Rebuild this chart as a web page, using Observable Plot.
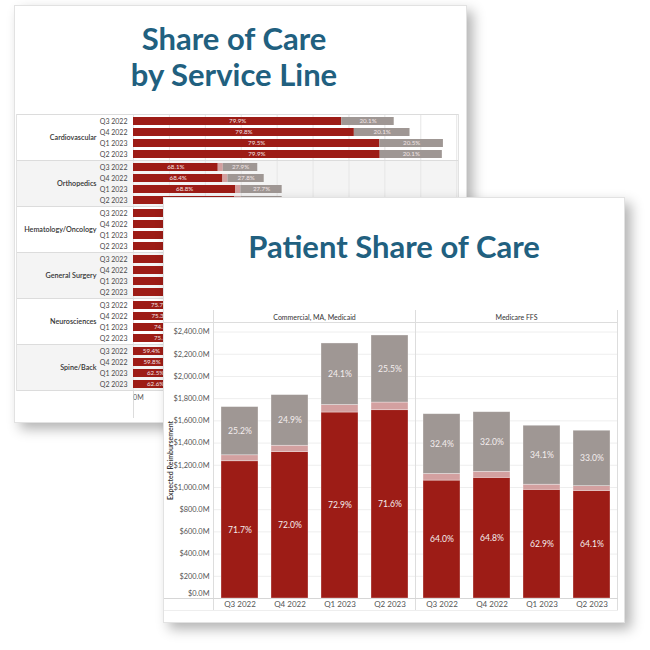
<!DOCTYPE html>
<html><head><meta charset="utf-8">
<script src="https://cdn.jsdelivr.net/npm/d3@7"></script>
<script src="https://cdn.jsdelivr.net/npm/@observablehq/plot@0.6"></script>
<style>
html,body{margin:0;padding:0;background:#fff;width:650px;height:650px;overflow:hidden;font-family:Lato,"Open Sans",sans-serif;}
.card{position:absolute;background:#fff;border:1px solid #e2e2e2;box-shadow:6px 6px 12px rgba(0,0,0,0.30);}
.title{position:absolute;text-align:center;font-family:Lato,sans-serif;font-weight:bold;font-size:31px;line-height:36px;color:#21607f;white-space:nowrap;}
.plot{position:absolute;overflow:visible;}
</style></head><body>
<div id="back" class="card" style="left:14px;top:5px;width:451px;height:416px;z-index:1">
  <div class="title" style="left:0;width:438px;top:14px">Share of Care<br>by Service Line</div>
  <div id="backPlot" class="plot" style="left:0;top:106px"></div>
</div>
<div id="front" class="card" style="left:163px;top:197px;width:460px;height:424px;z-index:2">
  <div class="title" style="left:0;width:460px;top:30px">Patient Share of Care</div>
  <div id="frontPlot" class="plot" style="left:0;top:102px"></div>
</div>
<script>
// ---------- shared ----------
const quarters = ["Q3 2022", "Q4 2022", "Q1 2023", "Q2 2023"];
const segments = ["Retained", "Shared", "Other"];
const segColors = ["#9d1c16", "#d3a0a0", "#9f9794"];

// ---------- back chart: share of care by service line ($M) ----------
const serviceLines = ["Cardiovascular", "Orthopedics", "Hematology/Oncology", "General Surgery", "Neurosciences", "Spine/Back"];
const backRetained = [
  [580, 615, 686, 687],
  [236, 249, 285, 282],
  [268, 276, 290, 296],
  [250, 258, 262, 270],
  [145, 148, 162, 162],
  [100, 103, 123, 123]
];
const backShared = [
  [0, 0, 0, 0],
  [14, 14, 14, 18],
  [12, 12, 12, 12],
  [10, 10, 11, 11],
  [6, 6, 7, 7],
  [6, 6, 7, 7]
];
const backOther = [
  [146, 155, 177, 173],
  [96, 101, 115, 114],
  [70, 72, 76, 78],
  [66, 68, 70, 72],
  [40, 42, 48, 46],
  [62, 62, 66, 66]
];
// labels that can be read in the picture ("" where the label is hidden)
const backRetainedPct = [
  ["79.9%", "79.8%", "79.5%", "79.9%"],
  ["68.1%", "68.4%", "68.8%", ""],
  ["", "", "", ""],
  ["", "", "", ""],
  ["75.7%", "75.3%", "74.5%", "75.3%"],
  ["59.4%", "59.8%", "62.5%", "62.6%"]
];
const backOtherPct = [
  ["20.1%", "20.1%", "20.5%", "20.1%"],
  ["27.9%", "27.8%", "27.7%", ""],
  ["", "", "", ""],
  ["", "", "", ""],
  ["", "", "", ""],
  ["", "", "", ""]
];
const backTicks = [0, 100, 200, 300, 400, 500, 600, 700, 800, 900];
const backTickLabels = [0]; // the only axis label not covered by the front card

// ---------- front chart: patient share of care ($M) ----------
const payers = ["Commercial, MA, Medicaid", "Medicare FFS"];
const frontRetained = [[1236, 1319, 1675, 1696], [1062, 1087, 979, 969]];
const frontShared   = [[54, 57, 68, 69], [60, 54, 46, 43]];
const frontOther    = [[434, 456, 554, 604], [538, 537, 531, 499]];
const frontRetainedPct = [["71.7%", "72.0%", "72.9%", "71.6%"], ["64.0%", "64.8%", "62.9%", "64.1%"]];
const frontOtherPct    = [["25.2%", "24.9%", "24.1%", "25.5%"], ["32.4%", "32.0%", "34.1%", "33.0%"]];
const frontTicks = [0, 200, 400, 600, 800, 1000, 1200, 1400, 1600, 1800, 2000, 2200, 2400];
const frontYLabel = "Expected Reimbursement";

const fmtM = d => "$" + d3.format(",.1f")(d) + "M";
const FONT = "Lato, 'Open Sans', sans-serif";

// ---------- build back ----------
const backRows = [];
serviceLines.forEach((s, i) => quarters.forEach((q, j) => {
  backRows.push({line: s, quarter: q, seg: segments[0], value: backRetained[i][j], label: backRetainedPct[i][j]});
  backRows.push({line: s, quarter: q, seg: segments[1], value: backShared[i][j], label: ""});
  backRows.push({line: s, quarter: q, seg: segments[2], value: backOther[i][j], label: backOtherPct[i][j]});
}));

const backSvg = Plot.plot({
  width: 444, height: 306,
  marginLeft: 118, marginRight: 1, marginTop: 2, marginBottom: 28,
  style: {fontFamily: FONT, background: "transparent", overflow: "visible"},
  fy: {domain: serviceLines, padding: 0, axis: null, label: null},
  y: {domain: quarters, paddingInner: 0.29, paddingOuter: 0.145, label: null},
  x: {domain: [0, 905], label: null},
  color: {domain: segments, range: segColors},
  marks: [
    Plot.rect(serviceLines, {fy: d => d, fill: (d, i) => (i % 2 ? "#f4f4f4" : "#ffffff"), insetLeft: -117}),
    Plot.gridX({ticks: backTicks, stroke: "#e6e6e6", strokeOpacity: 1}),
    Plot.frame({anchor: "top", stroke: "#dcdcdc", insetLeft: -117}),
    Plot.frame({anchor: "bottom", stroke: "#dcdcdc", insetLeft: -117}),
    Plot.frame({anchor: "right", stroke: "#e2e2e2"}),
    Plot.frame({anchor: "left", stroke: "#e2e2e2", insetLeft: -117}),
    Plot.ruleX([0], {fy: ["Spine/Back"], stroke: "#dcdcdc", insetTop: 46, insetBottom: -28}),
    Plot.barX(backRows, {fy: "line", y: "quarter", x: "value", fill: "seg"}),
    Plot.text(backRows, Plot.stackX({fy: "line", y: "quarter", x: "value", text: "label", fill: "#f3e6e6", fontSize: 6.2})),
    Plot.axisY({tickSize: 0, tickPadding: 6, fontSize: 7, fill: "#4a4a4a", label: null}),
    Plot.text(serviceLines, {fy: d => d, frameAnchor: "left", dx: -37, textAnchor: "end", text: d => d, fontSize: 7.2, fontWeight: 600, fill: "#333"}),
    Plot.axisX({anchor: "bottom", ticks: backTickLabels, tickSize: 0, tickPadding: 5, tickFormat: fmtM, fontSize: 7, fill: "#555", label: null})
  ]
});
document.getElementById("backPlot").appendChild(backSvg);

// clip the bottom axis labels to the pane, like the original
(function () {
  const g = backSvg.querySelector('g[aria-label="x-axis tick label"]');
  if (!g) return;
  const ns = "http://www.w3.org/2000/svg";
  const cp = document.createElementNS(ns, "clipPath");
  cp.setAttribute("id", "backAxisClip");
  const r = document.createElementNS(ns, "rect");
  r.setAttribute("x", 118); r.setAttribute("y", -2000);
  r.setAttribute("width", 2000); r.setAttribute("height", 4000);
  cp.appendChild(r);
  backSvg.insertBefore(cp, backSvg.firstChild);
  g.setAttribute("clip-path", "url(#backAxisClip)");
})();

// ---------- build front ----------
const frontRows = [];
payers.forEach((p, i) => quarters.forEach((q, j) => {
  frontRows.push({payer: p, quarter: q, seg: segments[0], value: frontRetained[i][j], label: frontRetainedPct[i][j]});
  frontRows.push({payer: p, quarter: q, seg: segments[1], value: frontShared[i][j], label: ""});
  frontRows.push({payer: p, quarter: q, seg: segments[2], value: frontOther[i][j], label: frontOtherPct[i][j]});
}));

const frontSvg = Plot.plot({
  width: 460, height: 318,
  marginLeft: 49, marginRight: 7, marginTop: 22, marginBottom: 20,
  style: {fontFamily: FONT, background: "transparent", overflow: "visible"},
  fx: {domain: payers, padding: 0, label: null},
  x: {domain: quarters, paddingInner: 0.27, paddingOuter: 0.135, label: null},
  y: {domain: [0, 2486], label: null},
  color: {domain: segments, range: segColors},
  marks: [
    Plot.gridY({ticks: frontTicks, stroke: "#eeeeee", strokeOpacity: 1}),
    Plot.frame({anchor: "left", stroke: "#dddddd", insetTop: -12, insetBottom: -12}),
    Plot.frame({anchor: "right", stroke: "#dddddd", insetTop: -12, insetBottom: -12}),
    Plot.frame({anchor: "top", stroke: "#dddddd", insetLeft: -49}),
    Plot.frame({anchor: "bottom", stroke: "#d6d6d6", insetLeft: -49}),
    Plot.frame({anchor: "bottom", stroke: "#eeeeee", insetLeft: -49, insetBottom: -12}),
    Plot.barY(frontRows, {fx: "payer", x: "quarter", y: "value", fill: "seg", stroke: "#ffffff", strokeOpacity: 0.45, strokeWidth: 0.7}),
    Plot.text(frontRows, Plot.stackY({fx: "payer", x: "quarter", y: "value", text: "label", fill: "#f4eeee", fontSize: 8.6})),
    Plot.axisFx({anchor: "top", tickSize: 0, tickPadding: 3, fontSize: 7, fill: "#333", label: null}),
    Plot.axisX({anchor: "bottom", tickSize: 0, tickPadding: 2.5, fontSize: 8, fill: "#555", label: null}),
    Plot.axisY({ticks: frontTicks.filter(v => v > 0), tickSize: 0, tickPadding: 4, tickFormat: fmtM, fontSize: 7.4, fill: "#555", label: null}),
    Plot.axisY({ticks: [0], tickSize: 0, tickPadding: 4, tickFormat: fmtM, fontSize: 7.4, fill: "#555", dy: -4.5, label: null}),
    Plot.text([frontYLabel], {fx: [payers[0]], frameAnchor: "left", dx: -43, rotate: -90, textAnchor: "middle", text: d => d, fontSize: 7, fontWeight: 600, fill: "#333"})
  ]
});
document.getElementById("frontPlot").appendChild(frontSvg);
</script>
</body></html>
